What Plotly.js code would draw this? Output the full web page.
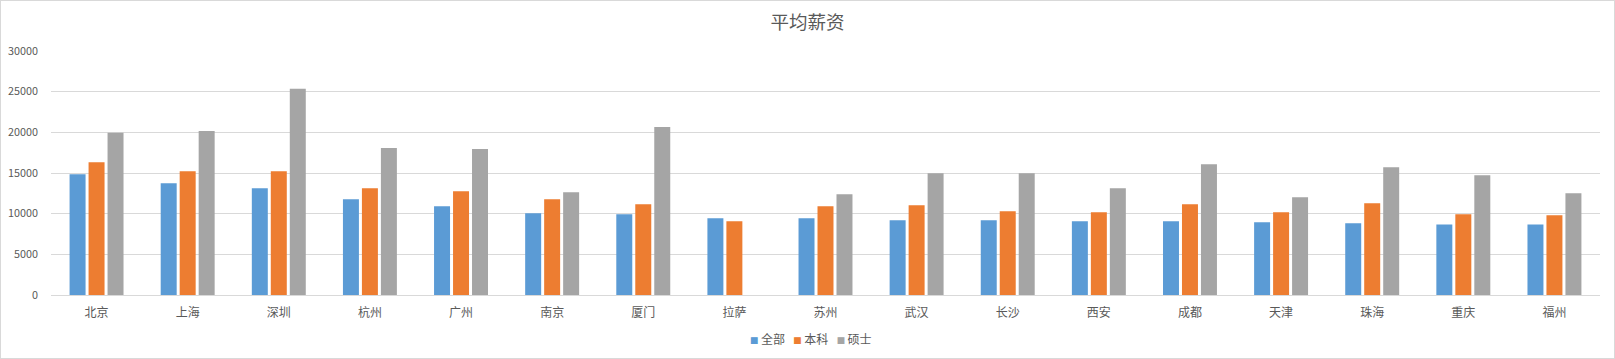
<!DOCTYPE html>
<html><head><meta charset="utf-8">
<script src="https://cdn.plot.ly/plotly-3.0.1.min.js"></script>
<style>
html,body{margin:0;padding:0;background:#fff;}
#chart{position:absolute;left:0;top:0;width:1615px;height:359px;box-sizing:border-box;border:1px solid #d9d9d9;}
</style></head>
<body><div id="chart"></div>
<script>
const cities = ["北京","上海","深圳","杭州","广州","南京","厦门","拉萨","苏州","武汉","长沙","西安","成都","天津","珠海","重庆","福州"];
const allSalary = [14856,13745,13128,11770,10905,10041,9918,9424,9424,9177,9177,9053,9053,8930,8807,8683,8683];
const bachelor = [16337,15226,15226,13128,12757,11770,11152,9053,10905,11029,10288,10165,11152,10165,11276,9918,9794];
const master = [19959,20165,25350,18066,17942,12634,20658,null,12387,14979,14979,13128,16091,12016,15720,14733,12510];
const seriesNames = ["全部","本科","硕士"];
const yTicks = [0,5000,10000,15000,20000,25000,30000];

const font = '"Noto Sans CJK SC", "Microsoft YaHei", sans-serif';
const colors = ["#5B9BD5","#ED7D31","#A5A5A5"];
const data = [allSalary, bachelor, master].map((v,i)=>({
  type:'bar', x:cities, y:v, name:seriesNames[i], marker:{color:colors[i]}, hoverinfo:'x+y'
}));
const legendText = seriesNames.map((n,i)=>'<span style="color:'+colors[i]+';font-size:8.5px">■</span>\u2009'+n).join('\u2002\u2009');
const layout = {
  width:1613, height:357,
  margin:{l:49.5, r:13.5, t:50.3, b:62.7, autoexpand:false},
  paper_bgcolor:'#fff', plot_bgcolor:'#fff',
  font:{family:font, color:'#595959', size:12},
  title:{text:'平均薪资', x:0.5, xanchor:'center', xref:'container', y:0.939, yref:'container', yanchor:'middle',
         font:{family:font, size:18.5, color:'#595959'}},
  bargap:0.375, bargroupgap:0.158,
  xaxis:{type:'category', showgrid:false, showline:false, zeroline:false, ticks:'', tickfont:{size:12, color:'#595959'}, ticklabelstandoff:9},
  yaxis:{range:[0,30000], tickvals:yTicks, ticktext:yTicks.map(String), showgrid:true, gridcolor:'#d9d9d9', gridwidth:1,
         zeroline:true, zerolinecolor:'#d9d9d9', zerolinewidth:1, showline:false, ticks:'', tickfont:{size:10.8, color:'#595959'}, ticklabelstandoff:12, fixedrange:true},
  showlegend:false,
  annotations:[{text:legendText, xref:'paper', yref:'paper', x:(810-49.5)/1550, xanchor:'center', y:-(338-294.3)/244, yanchor:'middle',
    showarrow:false, font:{size:12, color:'#595959', family:font}}]
};
Plotly.newPlot('chart', data, layout, {displayModeBar:false, staticPlot:true});
</script></body></html>
